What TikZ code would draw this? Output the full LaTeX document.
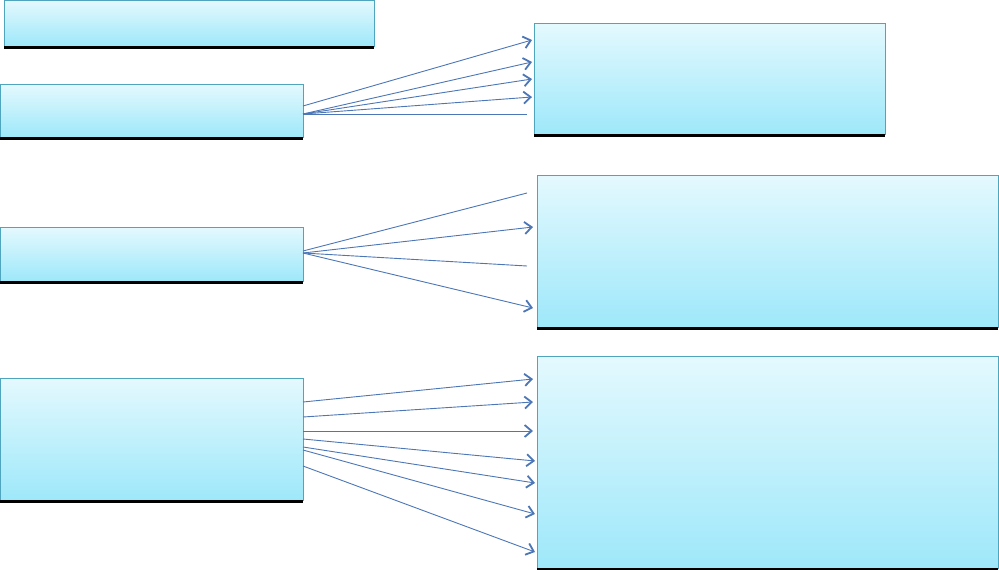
\documentclass[tikz,border=0pt]{standalone}
\usetikzlibrary{arrows.meta,calc}
\definecolor{boxtop}{RGB}{228,249,254}
\definecolor{boxbot}{RGB}{158,232,250}
\definecolor{boxedge}{RGB}{80,165,190}
\definecolor{arrcol}{RGB}{76,118,182}
\tikzset{
  box/.style={draw=boxedge, line width=0.9pt, top color=boxtop, bottom color=boxbot,
              rectangle, inner sep=0pt, outer sep=0pt, anchor=north west},
  boxshadow/.style={black, line width=2.4pt},
  conn/.style={draw=arrcol, line width=0.9pt},
  arr/.style={conn, -{Straight Barb[length=7pt,width=12pt,line width=1.8pt]}}
}
\begin{document}
\begin{tikzpicture}[x=1pt,y=-1pt]
\useasboundingbox (0,0) rectangle (999,570);
% boxes
\node[box, minimum width=370pt, minimum height=46pt] (A) at (4,0) {};
\node[box, minimum width=303pt, minimum height=53pt] (B) at (0,84) {};
\node[box, minimum width=303pt, minimum height=54pt] (C) at (0,227) {};
\node[box, minimum width=303pt, minimum height=122pt] (D) at (0,378) {};
\node[box, minimum width=351pt, minimum height=111pt] (R1) at (534,23) {};
\node[box, minimum width=461pt, minimum height=152pt] (R2) at (537,175) {};
\node[box, minimum width=461pt, minimum height=212pt] (R3) at (537,356) {};
% bottom shadows
\foreach \n in {A,B,C,D,R1,R2,R3}{
  \draw[boxshadow] ($(\n.south west)+(0,1.5)$) -- ($(\n.south east)+(0,1.5)$);
}
% group B -> R1
\draw[arr] ($(B.east)+(0,-4.5)$) -- ($(R1.west)+(-2,-38.5)$);
\draw[arr] ($(B.east)+(0,3.5)$) -- ($(R1.west)+(-2,-16.5)$);
\draw[arr] ($(B.east)+(0,3.5)$) -- ($(R1.west)+(-2,0.5)$);
\draw[arr] ($(B.east)+(0,3.5)$) -- ($(R1.west)+(-2,18.5)$);
\draw[conn] ($(B.east)+(0,3.5)$) -- ($(R1.west)+(-7,35.5)$);
% group C -> R2
\draw[conn] ($(C.east)+(0,-3)$) -- ($(R2.west)+(-10,-58)$);
\draw[arr] ($(C.east)+(0,-1)$) -- ($(R2.west)+(-4,-24)$);
\draw[conn] ($(C.east)+(0,-1)$) -- ($(R2.west)+(-10,15)$);
\draw[arr] ($(C.east)+(0,-1)$) -- ($(R2.west)+(-4,57)$);
% group D -> R3
\draw[arr] ($(D.east)+(0,-37)$) -- ($(R3.west)+(-4,-83)$);
\draw[arr] ($(D.east)+(0,-22)$) -- ($(R3.west)+(-4,-60)$);
\draw[arr] ($(D.east)+(0,-8)$) -- ($(R3.west)+(-4,-31)$);
\draw[arr] ($(D.east)+(0,0)$) -- ($(R3.west)+(-2,-1)$);
\draw[arr] ($(D.east)+(0,8)$) -- ($(R3.west)+(-2,21)$);
\draw[arr] ($(D.east)+(0,11)$) -- ($(R3.west)+(-2,52)$);
\draw[arr] ($(D.east)+(0,27)$) -- ($(R3.west)+(-2,90)$);
\end{tikzpicture}
\end{document}
